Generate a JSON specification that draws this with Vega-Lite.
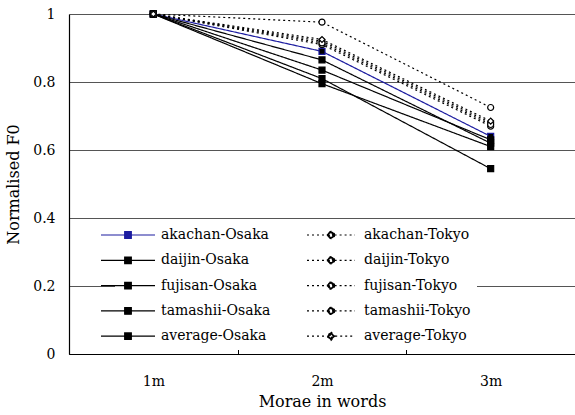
{
  "$schema": "https://vega.github.io/schema/vega-lite/v6.json",
  "width": 506,
  "height": 340,
  "autosize": "none",
  "padding": {"left": 69, "top": 14, "right": 0, "bottom": 61},
  "background": "white",
  "config": {
    "view": {"stroke": null},
    "font": "DejaVu Serif"
  },
  "data": {
    "values": [
      {"series": "akachan-Osaka", "city": "Osaka", "morae": "1m", "f0": 1},
      {"series": "akachan-Osaka", "city": "Osaka", "morae": "2m", "f0": 0.89},
      {"series": "akachan-Osaka", "city": "Osaka", "morae": "3m", "f0": 0.64},
      {"series": "daijin-Osaka", "city": "Osaka", "morae": "1m", "f0": 1},
      {"series": "daijin-Osaka", "city": "Osaka", "morae": "2m", "f0": 0.865},
      {"series": "daijin-Osaka", "city": "Osaka", "morae": "3m", "f0": 0.62},
      {"series": "fujisan-Osaka", "city": "Osaka", "morae": "1m", "f0": 1},
      {"series": "fujisan-Osaka", "city": "Osaka", "morae": "2m", "f0": 0.835},
      {"series": "fujisan-Osaka", "city": "Osaka", "morae": "3m", "f0": 0.63},
      {"series": "tamashii-Osaka", "city": "Osaka", "morae": "1m", "f0": 1},
      {"series": "tamashii-Osaka", "city": "Osaka", "morae": "2m", "f0": 0.81},
      {"series": "tamashii-Osaka", "city": "Osaka", "morae": "3m", "f0": 0.545},
      {"series": "average-Osaka", "city": "Osaka", "morae": "1m", "f0": 1},
      {"series": "average-Osaka", "city": "Osaka", "morae": "2m", "f0": 0.795},
      {"series": "average-Osaka", "city": "Osaka", "morae": "3m", "f0": 0.61},
      {"series": "akachan-Tokyo", "city": "Tokyo", "morae": "1m", "f0": 1},
      {"series": "akachan-Tokyo", "city": "Tokyo", "morae": "2m", "f0": 0.92},
      {"series": "akachan-Tokyo", "city": "Tokyo", "morae": "3m", "f0": 0.68},
      {"series": "daijin-Tokyo", "city": "Tokyo", "morae": "1m", "f0": 1},
      {"series": "daijin-Tokyo", "city": "Tokyo", "morae": "2m", "f0": 0.976},
      {"series": "daijin-Tokyo", "city": "Tokyo", "morae": "3m", "f0": 0.725},
      {"series": "fujisan-Tokyo", "city": "Tokyo", "morae": "1m", "f0": 1},
      {"series": "fujisan-Tokyo", "city": "Tokyo", "morae": "2m", "f0": 0.91},
      {"series": "fujisan-Tokyo", "city": "Tokyo", "morae": "3m", "f0": 0.67},
      {"series": "tamashii-Tokyo", "city": "Tokyo", "morae": "1m", "f0": 1},
      {"series": "tamashii-Tokyo", "city": "Tokyo", "morae": "2m", "f0": 0.915},
      {"series": "tamashii-Tokyo", "city": "Tokyo", "morae": "3m", "f0": 0.675},
      {"series": "average-Tokyo", "city": "Tokyo", "morae": "1m", "f0": 1},
      {"series": "average-Tokyo", "city": "Tokyo", "morae": "2m", "f0": 0.925},
      {"series": "average-Tokyo", "city": "Tokyo", "morae": "3m", "f0": 0.685}
    ]
  },
  "encoding": {
    "x": {
      "field": "morae", "type": "ordinal",
      "scale": {"paddingInner": 0, "paddingOuter": 0},
      "axis": {
        "title": "Morae in words", "labelAngle": 0,
        "tickBand": "extent", "tickSize": -5, "tickColor": "black",
        "domainColor": "black", "domainWidth": 1.2,
        "labelFont": "DejaVu Serif", "labelFontSize": 14, "labelColor": "black",
        "labelPadding": 25,
        "titleFont": "DejaVu Serif", "titleFontSize": 16, "titleFontWeight": "normal", "titleColor": "black",
        "titlePadding": 5, "grid": false
      }
    },
    "y": {
      "field": "f0", "type": "quantitative",
      "scale": {"domain": [0, 1], "nice": false},
      "axis": {
        "title": "Normalised F0", "values": [0, 0.2, 0.4, 0.6, 0.8, 1], "format": "~g",
        "ticks": false, "grid": true, "gridColor": "#555", "gridWidth": 1,
        "domainColor": "black", "domainWidth": 1.2,
        "labelFont": "DejaVu Serif", "labelFontSize": 14, "labelColor": "black",
        "labelPadding": 14,
        "titleFont": "DejaVu Serif", "titleFontSize": 16, "titleFontWeight": "normal", "titleColor": "black",
        "titlePadding": 11
      }
    }
  },
  "layer": [
    {
      "mark": {"type": "line", "strokeWidth": 1.2},
      "encoding": {
        "detail": {"field": "series"},
        "color": {
          "field": "series", "type": "nominal",
          "scale": {
            "domain": ["akachan-Osaka", "daijin-Osaka", "fujisan-Osaka", "tamashii-Osaka", "average-Osaka", "akachan-Tokyo", "daijin-Tokyo", "fujisan-Tokyo", "tamashii-Tokyo", "average-Tokyo"],
            "range": ["#1c1ca0", "black", "black", "black", "black", "black", "black", "black", "black", "black"]
          },
          "legend": {
            "title": null, "orient": "none", "legendX": 46, "legendY": 208,
            "columns": 2, "columnPadding": 33, "rowPadding": 11.3,
            "fillColor": "white", "padding": 6,
            "labelFont": "DejaVu Serif", "labelFontSize": 14, "labelColor": "black", "labelLimit": 0,
            "labelOffset": 26, "symbolSize": 36, "symbolStrokeWidth": 1.2,
            "encode": {
              "symbols": {
                "update": {
                  "shape": {"signal": "indexof(datum.value, 'Osaka') >= 0 ? 'M-9,0H9M-1.1,-1.1H1.1V1.1H-1.1Z' : (indexof(datum.value, 'average') >= 0 ? 'M-8,0H-1.4M1.4,0H8M0,-1.4L1.4,0L0,1.4L-1.4,0ZM0,-0.6L-0.6,0L0,0.6L0.6,0Z' : 'M-8,0H-1.2M1.2,0H8M1.2,0A1.2,1.2 0 1,1 -1.2,0A1.2,1.2 0 1,1 1.2,0ZM0.6,0A0.6,0.6 0 1,0 -0.6,0A0.6,0.6 0 1,0 0.6,0Z')"},
                  "strokeDash": {"signal": "indexof(datum.value, 'Tokyo') >= 0 ? [2, 3] : [1, 0]"},
                  "fill": {"signal": "datum.value == 'akachan-Osaka' ? '#1c1ca0' : 'black'"},
                  "stroke": {"signal": "datum.value == 'akachan-Osaka' ? '#1c1ca0' : 'black'"},
                  "opacity": {"value": 1},
                  "fillOpacity": {"value": 1},
                  "strokeWidth": {"value": 1.2}
                }
              }
            }
          }
        },
        "strokeDash": {
          "field": "city", "type": "nominal",
          "scale": {"domain": ["Osaka", "Tokyo"], "range": [[1, 0], [2, 3]]},
          "legend": null
        }
      }
    },
    {
      "mark": {"type": "point", "filled": false, "opacity": 1, "strokeWidth": 1.2},
      "encoding": {
        "color": {"field": "series", "type": "nominal", "legend": null},
        "shape": {
          "condition": {"test": "datum.series === 'average-Tokyo'", "value": "diamond"},
          "field": "city", "type": "nominal",
          "scale": {"domain": ["Osaka", "Tokyo"], "range": ["square", "circle"]},
          "legend": null
        },
        "fill": {
          "field": "city", "type": "nominal",
          "scale": {"domain": ["Osaka", "Tokyo"], "range": ["black", "white"]},
          "legend": null
        },
        "size": {"value": 36}
      }
    }
  ]
}
